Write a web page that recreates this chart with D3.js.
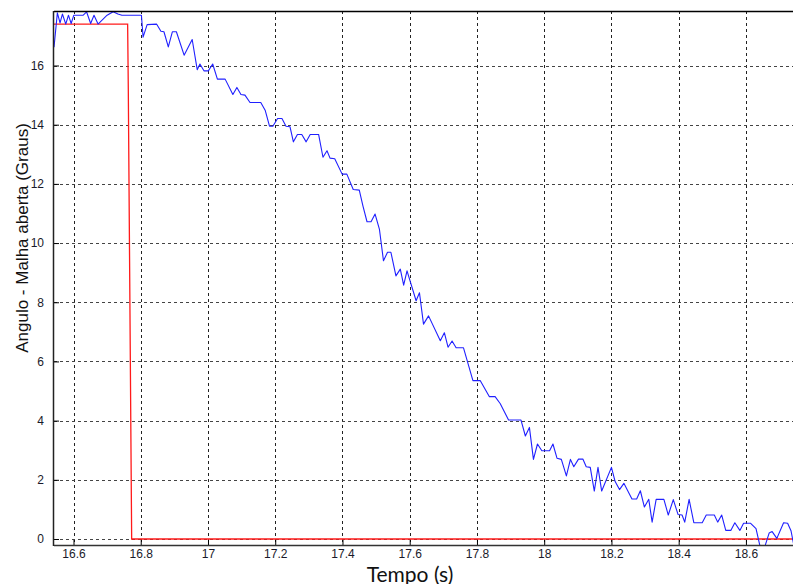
<!DOCTYPE html>
<html>
<head>
<meta charset="utf-8">
<script src="https://cdn.jsdelivr.net/npm/d3@7"></script>
<style>
  html, body { margin: 0; padding: 0; background: #fff; }
  svg { display: block; }
</style>
</head>
<body>
<svg id="chart" width="793" height="584"></svg>
<script>
// ---- data ----
const blueTime = [16.542,16.552,16.560,16.567,16.577,16.585,16.593,16.601,16.629,16.639,16.651,16.661,16.673,16.700,16.718,16.732,16.744,16.802,16.807,16.819,16.847,16.860,16.869,16.882,16.894,16.906,16.929,16.953,16.968,16.976,16.988,17.001,17.014,17.028,17.051,17.074,17.086,17.098,17.110,17.125,17.157,17.170,17.183,17.193,17.207,17.220,17.232,17.244,17.254,17.266,17.279,17.292,17.304,17.329,17.342,17.354,17.363,17.377,17.399,17.413,17.432,17.450,17.461,17.473,17.485,17.497,17.510,17.522,17.534,17.544,17.559,17.572,17.582,17.592,17.604,17.619,17.629,17.641,17.656,17.691,17.703,17.714,17.726,17.738,17.760,17.788,17.810,17.837,17.854,17.869,17.894,17.931,17.944,17.956,17.968,17.980,17.993,18.016,18.026,18.038,18.051,18.066,18.078,18.088,18.102,18.115,18.125,18.137,18.149,18.160,18.171,18.200,18.211,18.224,18.237,18.261,18.275,18.286,18.298,18.311,18.321,18.333,18.356,18.369,18.384,18.398,18.410,18.418,18.431,18.445,18.470,18.482,18.506,18.516,18.528,18.540,18.555,18.567,18.582,18.593,18.614,18.630,18.643,18.655,18.669,18.678,18.692,18.712,18.724,18.734,18.744];
const blueAngle = [16.62,17.78,17.44,17.74,17.40,17.70,17.42,17.70,17.70,17.81,17.42,17.70,17.40,17.70,17.82,17.74,17.70,17.70,16.96,17.38,17.40,17.16,17.14,16.63,17.14,17.14,16.35,16.88,15.86,16.05,15.82,15.82,16.05,15.54,15.54,15.02,15.26,15.02,15.00,14.75,14.75,14.49,13.95,13.95,14.21,14.21,13.95,13.93,13.42,13.67,13.67,13.42,13.67,13.67,12.90,13.12,12.87,12.85,12.33,12.33,11.81,11.79,11.25,10.72,10.72,10.98,10.46,9.40,9.69,9.69,8.89,9.12,8.58,9.06,8.61,8.05,8.32,7.26,7.54,6.70,6.97,6.48,6.69,6.46,6.46,5.35,5.35,4.81,4.81,4.58,4.02,4.02,3.48,3.77,2.69,3.21,2.98,2.98,3.21,2.73,2.69,2.13,2.69,2.44,2.70,2.70,2.44,2.42,1.62,2.42,1.62,2.42,1.94,1.67,1.88,1.35,1.35,1.63,1.08,1.34,0.57,1.34,1.34,0.81,1.33,0.83,0.81,0.57,1.34,0.55,0.55,0.81,0.81,0.57,0.81,0.29,0.29,0.55,0.29,0.53,0.53,0.35,-0.30,-0.30,0.20,0.25,0.02,0.55,0.53,0.28,-0.30];
const redTime = [16.542,16.761,16.763,16.773,18.75];
const redAngle = [17.40,17.40,15.2,0.0,0.0];
const xTicks = [16.6,16.8,17,17.2,17.4,17.6,17.8,18,18.2,18.4,18.6];
const yTicks = [0,2,4,6,8,10,12,14,16];
const xLabel = "Tempo (s)";
const yLabel = "Angulo - Malha aberta (Graus)";

// ---- layout ----
const L = 54, T = 11, R = 793, B = 545;
const svg = d3.select("#chart");
const x = d3.scaleLinear().domain([16.542, 18.74]).range([L, R]);
const y = d3.scaleLinear().domain([-0.203, 17.842]).range([B, T]);

svg.append("defs").append("clipPath").attr("id", "clip")
  .append("rect").attr("x", L).attr("y", T).attr("width", R - L).attr("height", B - T);

// grid
const grid = svg.append("g").attr("shape-rendering", "crispEdges");
grid.selectAll("line.vx").data(xTicks).join("line")
  .attr("x1", d => Math.round(x(d)) + 0.5).attr("x2", d => Math.round(x(d)) + 0.5)
  .attr("y1", T).attr("y2", B)
  .attr("stroke", "#222").attr("stroke-width", 1).attr("stroke-dasharray", "3,3");
grid.selectAll("line.hy").data(yTicks).join("line")
  .attr("y1", d => Math.round(y(d)) + 0.5).attr("y2", d => Math.round(y(d)) + 0.5)
  .attr("x1", L).attr("x2", R)
  .attr("stroke", "#444").attr("stroke-width", 1).attr("stroke-dasharray", "3,3");

// lines
const plot = svg.append("g").attr("clip-path", "url(#clip)");
const line = d3.line().x(d => x(d[0])).y(d => y(d[1]));
plot.append("path").datum(redTime.map((t, i) => [t, redAngle[i]]))
  .attr("d", line).attr("fill", "none").attr("stroke", "#ff1a1a").attr("stroke-width", 1.3);
plot.append("path").datum(blueTime.map((t, i) => [t, blueAngle[i]]))
  .attr("d", line).attr("fill", "none").attr("stroke", "#2020ff").attr("stroke-width", 1.1)
  .attr("stroke-linejoin", "round");

// axes
const xAxis = d3.axisBottom(x).tickValues(xTicks).tickSize(-5).tickPadding(8)
  .tickFormat(d3.format("~g"));
const gx = svg.append("g").attr("transform", `translate(0,${B})`).call(xAxis);
gx.select(".domain").remove();
const yAxis = d3.axisLeft(y).tickValues(yTicks).tickSize(-5).tickPadding(10)
  .tickFormat(d3.format("~g"));
const gy = svg.append("g").attr("transform", `translate(${L},0)`).call(yAxis);
gy.select(".domain").remove();
[gx, gy].forEach(g => {
  g.selectAll("text").attr("font-family", "Liberation Sans, Arial, sans-serif")
    .attr("font-size", 12).attr("fill", "#1a1a2a");
  g.selectAll("line").attr("stroke", "#000");
});
gx.selectAll("text").attr("y", 13).attr("dy", "0");

// frame
svg.append("line").attr("x1", L).attr("x2", R).attr("y1", T + 0.5).attr("y2", T + 0.5)
  .attr("stroke", "#000").attr("stroke-width", 1.5);
svg.append("line").attr("x1", L - 0.5).attr("x2", L - 0.5).attr("y1", T).attr("y2", B + 1)
  .attr("stroke", "#222").attr("stroke-width", 1.5);
svg.append("line").attr("x1", L).attr("x2", R).attr("y1", B + 0.5).attr("y2", B + 0.5)
  .attr("stroke", "#333").attr("stroke-width", 1.5);

// labels
svg.append("text").attr("x", 410).attr("y", 581.5).attr("text-anchor", "middle")
  .attr("font-family", "Lato, DejaVu Sans, sans-serif").attr("font-size", 21).attr("fill", "#111")
  .text(xLabel);
svg.append("text").attr("transform", `translate(28,${238}) rotate(-90)`).attr("text-anchor", "middle")
  .attr("font-family", "Liberation Sans, Arial, sans-serif").attr("font-size", 17).attr("fill", "#111")
  .text(yLabel);
</script>
</body>
</html>
